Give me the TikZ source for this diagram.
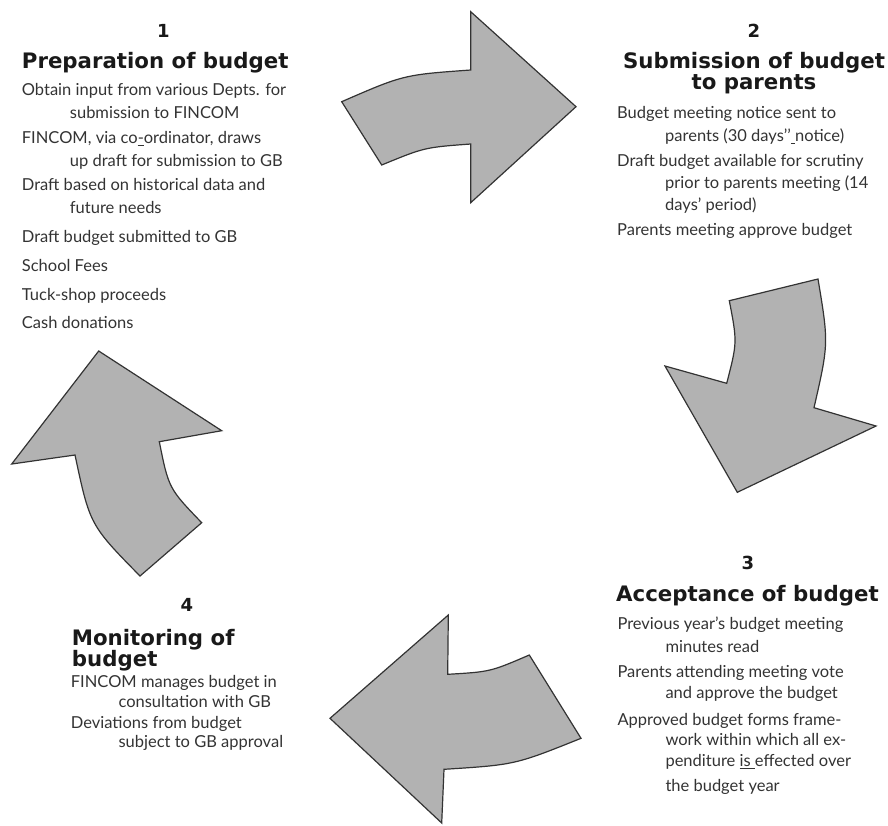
\documentclass[tikz,border=0pt]{standalone}
\usepackage{fontspec}
\setmainfont{Lato}
\newfontfamily\headfont{DejaVu Sans}
\usetikzlibrary{positioning}
\tikzset{
	blockarrow/.style={fill=black!30,draw=black!80,line width=1.2pt,line join=miter},
	num/.style={font=\headfont\bfseries\fontsize{18}{20}\selectfont,text=black!90,inner sep=0pt},
	head/.style={font=\headfont\bfseries\fontsize{21.3}{21}\selectfont,text=black!90,inner sep=0pt},
	body/.style={font=\fontsize{16.5}{23}\selectfont,text=black!80,inner sep=0pt,align=left,anchor=north west},
}
\begin{document}
\begin{tikzpicture}[x=1pt,y=-1pt]
		\useasboundingbox (0,0) rectangle (888,825);
		\draw[blockarrow] (341.7,101.7) .. controls (403.5,74.8) .. (470.7,70) -- (470.7,11.7) -- (576,106.7) -- (470.7,202.7) -- (470.7,144) .. controls (424.5,147.4) .. (381.7,165) -- cycle;
		\draw[blockarrow] (818,279) -- (729.3,300.7) .. controls (737.3,342.3) .. (726.7,383.3) -- (665,366) -- (737.3,492.3) -- (876,426) -- (814,407.7) .. controls (828.7,343.4) .. (818,279) -- cycle;
		\draw[blockarrow] (448.3,615) -- (447.7,674.3) .. controls (490.2,671.8) .. (529.3,655) -- (581,738.3) .. controls (515,764.8) .. (444,769.3) -- (441.7,823) -- (330,718.3) -- cycle;
		\draw[blockarrow] (98.7,351) -- (221.7,430.7) -- (159.3,441.7) .. controls (168.7,488.4) .. (201.7,522.7) -- (140,576) .. controls (89.9,525) .. (75,455) -- (11.7,464) -- cycle;
		\node[num] (n1) at (163.3,31) {1};
		\node[head,anchor=base west] (h1) at (21.7,68.3) {Preparation of budget};
		\node[body] (b1) at (21.7,83) {Obtain input from various Depts. for\\
			\hspace*{48pt}submission to FINCOM\\[2pt]
			FINCOM, via co\underline{-}ordinator, draws\\
			\hspace*{48pt}up draft for submission to GB\\[1pt]
			Draft based on historical data and\\
			\hspace*{48pt}future needs\\[6.5pt]
			Draft budget submitted to GB\\[6pt]
			School Fees\\[5.3pt]
			Tuck-shop proceeds\\[5.3pt]
			Cash donations};
		\node[num] (n2) at (754,31) {2};
		\node[head,align=center,anchor=north] (h2) at (754,52) {Submission of budget\\to parents};
		\node[body] (b2) at (617,106) {Budget meeting notice sent to\\
			\hspace*{48pt}parents (30 days’’\underline{\ }notice)\\[2.5pt]
			Draft budget available for scrutiny\\[-1pt]
			\hspace*{48pt}prior to parents meeting (14\\[-1pt]
			\hspace*{48pt}days’ period)\\[2pt]
			Parents meeting approve budget};
		\node[num] (n3) at (748,563) {3};
		\node[head,anchor=base west] (h3) at (616,601.7) {Acceptance of budget};
		\node[body] (b3) at (617.3,616.3) {Previous year’s budget meeting\\
			\hspace*{48pt}minutes read\\[2pt]
			Parents attending meeting vote\\[-1.5pt]
			\hspace*{48pt}and approve the budget\\[3.5pt]
			Approved budget forms frame-\\[-3pt]
			\hspace*{48pt}work within which all ex-\\[-1.3pt]
			\hspace*{48pt}penditure \underline{is }effected over\\[2pt]
			\hspace*{48pt}the budget year};
		\node[num] (n4) at (187,605) {4};
		\node[head,align=left,anchor=north west] (h4) at (71.7,629) {Monitoring of\\budget};
		\node[body] (b4) at (70.7,674.7) {FINCOM manages budget in\\[-3pt]
			\hspace*{47.6pt}consultation with GB\\[-1.5pt]
			Deviations from budget\\[-4pt]
			\hspace*{47.6pt}subject to GB approval};
\end{tikzpicture}
\end{document}
